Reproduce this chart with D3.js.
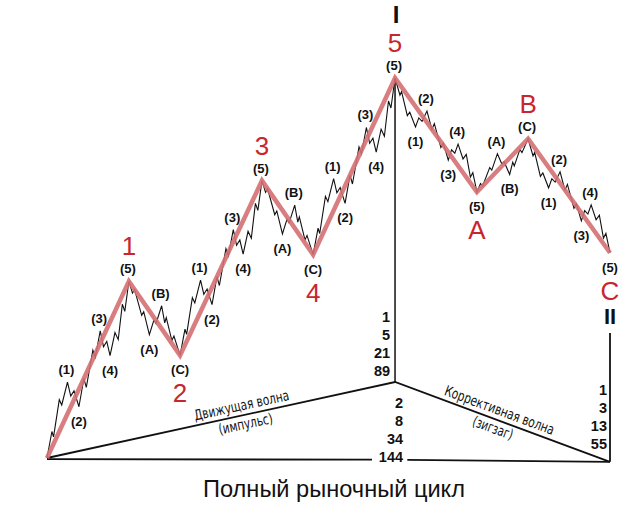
<!DOCTYPE html>
<html>
<head>
<meta charset="utf-8">
<script src="https://cdn.jsdelivr.net/npm/d3@7"></script>
<style>
  body { margin: 0; background: #fff; }
</style>
</head>
<body>
<div id="chart"></div>
<script>
// main wave pivots (time, price)
var pivotTime  = [0, 8, 13, 21, 26, 34, 42, 47, 55];
var pivotPrice = [0, 46.5, 27, 73, 53.5, 100, 70, 84, 54];
var pivotNames = ["", "1", "2", "3", "4", "5", "A", "B", "C"];
var waveTypes  = ["impulse", "zigzag", "impulse", "zigzag", "impulse", "impulse", "zigzag", "impulse"];

// shape of one wave: [share of time, share of move]
var impulseShape = [
  [0, 0],
  [0.06, 0.15], [0.08, 0.12], [0.15, 0.33], [0.18, 0.30], [0.25, 0.43],
  [0.29, 0.35], [0.33, 0.38], [0.39, 0.29],
  [0.45, 0.45], [0.48, 0.40], [0.56, 0.61], [0.59, 0.57], [0.65, 0.72],
  [0.69, 0.63], [0.73, 0.66], [0.77, 0.58],
  [0.83, 0.71], [0.87, 0.67], [0.92, 0.87], [0.95, 0.83], [1, 1]
];
var impulseMarks  = [5, 8, 13, 16, 21];
var impulseLabels = ["(1)", "(2)", "(3)", "(4)", "(5)"];

var zigzagShape = [
  [0, 0],
  [0.07, 0.16], [0.11, 0.11], [0.25, 0.46], [0.29, 0.41], [0.40, 0.72],
  [0.49, 0.52], [0.53, 0.57], [0.64, 0.33],
  [0.70, 0.56], [0.73, 0.49], [0.84, 0.80], [0.88, 0.74], [1, 1]
];
var zigzagMarks  = [5, 8, 13];
var zigzagLabels = ["(A)", "(B)", "(C)"];

// cycle triangle
var cycleTime  = [0, 34, 55];
var cyclePrice = [0, 20, -1];
var baseTime   = [0, 31.75, 35.2, 55];
var basePrice  = [-0.3, -0.45, -0.5, -1];
var motiveCounts     = ["1", "5", "21", "89"];
var fullCounts       = ["2", "8", "34", "144"];
var correctiveCounts = ["1", "3", "13", "55"];

var width = 638,
    height = 519;

var svg = d3.select("#chart")
            .append("svg")
            .attr("width", width)
            .attr("height", height)
            .style("font-family", "'Liberation Sans', Arial, sans-serif");

var x = d3.scaleLinear().domain([0, 55]).range([47, 610]);
var y = d3.scaleLinear().domain([0, 100]).range([458, 78]);

var shapes = { impulse: impulseShape, zigzag: zigzagShape };
var marks  = { impulse: impulseMarks, zigzag: zigzagMarks };
var names  = { impulse: impulseLabels, zigzag: zigzagLabels };

/* build the small waves */
var subPoints = [];
var subLabels = [];
waveTypes.forEach(function(type, i) {
    var t0 = pivotTime[i], t1 = pivotTime[i + 1];
    var p0 = pivotPrice[i], p1 = pivotPrice[i + 1];
    var up = p1 > p0;
    var pts = shapes[type].map(function(s) {
        return [t0 + s[0] * (t1 - t0), p0 + s[1] * (p1 - p0)];
    });
    subPoints = subPoints.concat(i == 0 ? pts : pts.slice(1));
    marks[type].forEach(function(m, k) {
        var onTop = (k % 2 == 0) ? up : !up;
        subLabels.push({ t: pts[m][0], p: pts[m][1], text: names[type][k], top: onTop });
    });
});

var line = d3.line()
    .x(function(d) { return x(d[0]); })
    .y(function(d) { return y(d[1]); });

/* cycle triangle */
var cyc = cycleTime.map(function(t, i) { return [t, cyclePrice[i]]; });
svg.append("path")
    .attr("d", line(cyc))
    .attr("fill", "none")
    .attr("stroke", "#111")
    .attr("stroke-width", 1.8);

svg.append("path")
    .attr("d", line([[baseTime[0], basePrice[0]], [baseTime[1], basePrice[1]]]))
    .attr("stroke", "#111").attr("stroke-width", 1.8);
svg.append("path")
    .attr("d", line([[baseTime[2], basePrice[2]], [baseTime[3], basePrice[3]]]))
    .attr("stroke", "#111").attr("stroke-width", 1.8);

// vertical lines I and II
svg.append("path")
    .attr("d", line([[pivotTime[5], pivotPrice[5]], [cycleTime[1], cyclePrice[1]]]))
    .attr("stroke", "#111").attr("stroke-width", 1.5);
svg.append("line")
    .attr("x1", x(cycleTime[2])).attr("x2", x(cycleTime[2]))
    .attr("y1", y(cyclePrice[2])).attr("y2", 333)
    .attr("stroke", "#111").attr("stroke-width", 1.8);

/* wiggly line */
svg.append("path")
    .attr("d", line(subPoints))
    .attr("fill", "none")
    .attr("stroke", "#111")
    .attr("stroke-width", 1.1);

/* main red line */
svg.append("path")
    .attr("d", line(pivotTime.map(function(t, i) { return [t, pivotPrice[i]]; })))
    .attr("fill", "none")
    .attr("stroke", "#d46f72")
    .attr("stroke-opacity", 0.9)
    .attr("stroke-width", 4.5);

/* small labels */
svg.append("g")
    .selectAll("text")
    .data(subLabels)
    .enter().append("text")
    .attr("x", function(d) { return x(d.t) - (d.top ? 1 : 0); })
    .attr("y", function(d) { return d.top ? y(d.p) - 8 : y(d.p) + 19; })
    .attr("text-anchor", "middle")
    .attr("font-size", 13)
    .attr("font-weight", "bold")
    .attr("fill", "#111")
    .text(function(d) { return d.text; });

/* big red labels */
svg.append("g")
    .selectAll("text")
    .data(pivotNames.map(function(n, i) { return { n: n, i: i }; }).filter(function(d) { return d.n != ""; }))
    .enter().append("text")
    .attr("x", function(d) { return x(pivotTime[d.i]); })
    .attr("y", function(d) {
        var peak = pivotPrice[d.i] > pivotPrice[d.i - 1];
        return peak ? y(pivotPrice[d.i]) - 26 : y(pivotPrice[d.i]) + 47;
    })
    .attr("text-anchor", "middle")
    .attr("font-size", 26)
    .attr("fill", "#c8262e")
    .text(function(d) { return d.n; });

svg.append("text")
    .attr("x", x(pivotTime[5]) + 1).attr("y", 23)
    .attr("text-anchor", "middle")
    .attr("font-size", 24).attr("font-weight", "bold")
    .attr("fill", "#111")
    .text("I");
svg.append("text")
    .attr("x", x(cycleTime[2])).attr("y", 324)
    .attr("text-anchor", "middle")
    .attr("font-size", 22).attr("font-weight", "bold")
    .attr("fill", "#111")
    .text("II");

/* Fibonacci counts */
function column(list, cx, cy) {
    svg.append("g")
        .selectAll("text")
        .data(list)
        .enter().append("text")
        .attr("x", cx)
        .attr("y", function(d, i) { return cy + i * 18; })
        .attr("text-anchor", "end")
        .attr("font-size", 14.5)
        .attr("font-weight", "bold")
        .attr("fill", "#111")
        .text(function(d) { return d; });
}
column(motiveCounts, x(cycleTime[1]) - 5, y(cyclePrice[1]) - 60);
column(fullCounts, x(cycleTime[1]) + 8, y(cyclePrice[1]) + 26);
column(correctiveCounts, x(cycleTime[2]) - 3, y(cyclePrice[2]) - 67);

/* texts along the triangle sides */
function sideText(a, b, f, top, bottom, topLen, bottomLen) {
    var x0 = x(cycleTime[a]), y0 = y(cyclePrice[a]);
    var x1 = x(cycleTime[b]), y1 = y(cyclePrice[b]);
    var ang = Math.atan2(y1 - y0, x1 - x0) * 180 / Math.PI;
    var g = svg.append("g")
        .attr("transform", "translate(" + (x0 + f * (x1 - x0)) + "," + (y0 + f * (y1 - y0)) + ") rotate(" + ang + ")")
        .style("font-family", "'Liberation Sans Narrow', 'DejaVu Sans Condensed', sans-serif")
        .attr("fill", "#111")
        .attr("font-size", 14.5);
    g.append("text")
        .attr("y", -5)
        .attr("text-anchor", "middle")
        .attr("textLength", topLen)
        .attr("lengthAdjust", "spacingAndGlyphs")
        .text(top);
    g.append("text")
        .attr("y", 14)
        .attr("text-anchor", "middle")
        .attr("textLength", bottomLen)
        .attr("lengthAdjust", "spacingAndGlyphs")
        .text(bottom);
}
sideText(0, 1, 0.565, "Движущая волна", "(импульс)", 97, 55);
sideText(1, 2, 0.47, "Коррективная волна", "(зигзаг)", 116, 42);

/* title */
svg.append("text")
    .attr("x", 334).attr("y", 497)
    .attr("text-anchor", "middle")
    .attr("font-size", 23.5)
    .attr("textLength", 262)
    .attr("lengthAdjust", "spacingAndGlyphs")
    .attr("fill", "#111")
    .text("Полный рыночный цикл");
</script>
</body>
</html>
